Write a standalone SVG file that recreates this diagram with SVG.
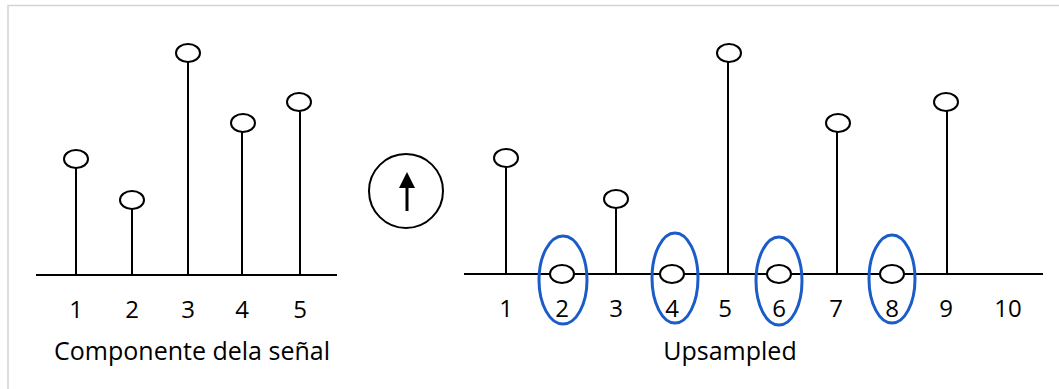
<svg xmlns="http://www.w3.org/2000/svg" width="1059" height="389" viewBox="0 0 1059 389">
  <style>
    .frame { stroke: #d4d4d4; stroke-width: 1.5; fill: none; }
    .axis { stroke: #000; stroke-width: 2; fill: none; }
    .stem { stroke: #000; stroke-width: 2; fill: none; }
    .dot { stroke: #000; stroke-width: 2; fill: #fff; }
    .mark { stroke: #1a5cc8; stroke-width: 3; fill: none; }
    .num { font-family: "Open Sans", "Liberation Sans", sans-serif; font-size: 24px; fill: #000; text-anchor: middle; }
    .cap { font-family: "Open Sans", "Liberation Sans", sans-serif; font-size: 25px; fill: #000; text-anchor: middle; }
  </style>

  <rect width="1059" height="389" fill="#fff"/>
  <path class="frame" d="M8,389 V5.5 H1059"/>

  <!-- original signal -->
  <g id="signal">
    <line class="axis" x1="36" y1="275" x2="337" y2="275"/>
    <g id="s1"><line class="stem" x1="76" y1="275" x2="76" y2="168"/><ellipse class="dot" cx="76" cy="159" rx="12" ry="9"/></g>
    <g id="s2"><line class="stem" x1="132" y1="275" x2="132" y2="209"/><ellipse class="dot" cx="132" cy="200" rx="12" ry="9"/></g>
    <g id="s3"><line class="stem" x1="188" y1="275" x2="188" y2="62"/><ellipse class="dot" cx="188" cy="53" rx="12" ry="9"/></g>
    <g id="s4"><line class="stem" x1="242" y1="275" x2="242" y2="132"/><ellipse class="dot" cx="243" cy="123" rx="12" ry="9"/></g>
    <g id="s5"><line class="stem" x1="300" y1="275" x2="300" y2="111"/><ellipse class="dot" cx="299" cy="102" rx="12" ry="9"/></g>
    <g id="signal-labels">
      <text class="num" x="76" y="318">1</text>
      <text class="num" x="132" y="318">2</text>
      <text class="num" x="188" y="318">3</text>
      <text class="num" x="242" y="318">4</text>
      <text class="num" x="300" y="318">5</text>
      <text class="cap" x="192" y="360">Componente dela señal</text>
    </g>
  </g>

  <!-- upsampling operator -->
  <g id="upsampler">
    <circle cx="406" cy="191" r="37" fill="none" stroke="#000" stroke-width="2"/>
    <line x1="407" y1="211" x2="407" y2="186" stroke="#000" stroke-width="3"/>
    <path d="M407,172 L415,188 L399,188 Z" fill="#000"/>
  </g>

  <!-- upsampled signal -->
  <g id="upsampled">
    <line class="axis" x1="464" y1="274" x2="1043" y2="274"/>
    <g id="u1"><line class="stem" x1="506" y1="274" x2="506" y2="167"/><ellipse class="dot" cx="506" cy="158" rx="12" ry="9"/></g>
    <g id="u2"><ellipse class="dot" cx="562" cy="274" rx="12" ry="9"/></g>
    <g id="u3"><line class="stem" x1="616" y1="274" x2="616" y2="208"/><ellipse class="dot" cx="616" cy="199" rx="12" ry="9"/></g>
    <g id="u4"><ellipse class="dot" cx="672" cy="274" rx="12" ry="9"/></g>
    <g id="u5"><line class="stem" x1="728" y1="274" x2="728" y2="62"/><ellipse class="dot" cx="729" cy="53" rx="12" ry="9"/></g>
    <g id="u6"><ellipse class="dot" cx="779" cy="274" rx="12" ry="9"/></g>
    <g id="u7"><line class="stem" x1="837" y1="274" x2="837" y2="132"/><ellipse class="dot" cx="838" cy="123" rx="12" ry="9"/></g>
    <g id="u8"><ellipse class="dot" cx="892" cy="274" rx="12" ry="9"/></g>
    <g id="u9"><line class="stem" x1="947" y1="274" x2="947" y2="111"/><ellipse class="dot" cx="946" cy="102" rx="12" ry="9"/></g>
    <g id="inserted-zeros">
      <ellipse class="mark" cx="563" cy="280" rx="24" ry="44"/>
      <ellipse class="mark" cx="675" cy="278" rx="23" ry="45"/>
      <ellipse class="mark" cx="779" cy="281" rx="23" ry="44"/>
      <ellipse class="mark" cx="892" cy="279" rx="23" ry="44"/>
    </g>
    <g id="upsampled-labels">
      <text class="num" x="506" y="317">1</text>
      <text class="num" x="562" y="317">2</text>
      <text class="num" x="616" y="317">3</text>
      <text class="num" x="672" y="317">4</text>
      <text class="num" x="725" y="317">5</text>
      <text class="num" x="779" y="317">6</text>
      <text class="num" x="836" y="317">7</text>
      <text class="num" x="892" y="317">8</text>
      <text class="num" x="946" y="317">9</text>
      <text class="num" x="1008" y="317">10</text>
      <text class="cap" x="730" y="360">Upsampled</text>
    </g>
  </g>
</svg>
